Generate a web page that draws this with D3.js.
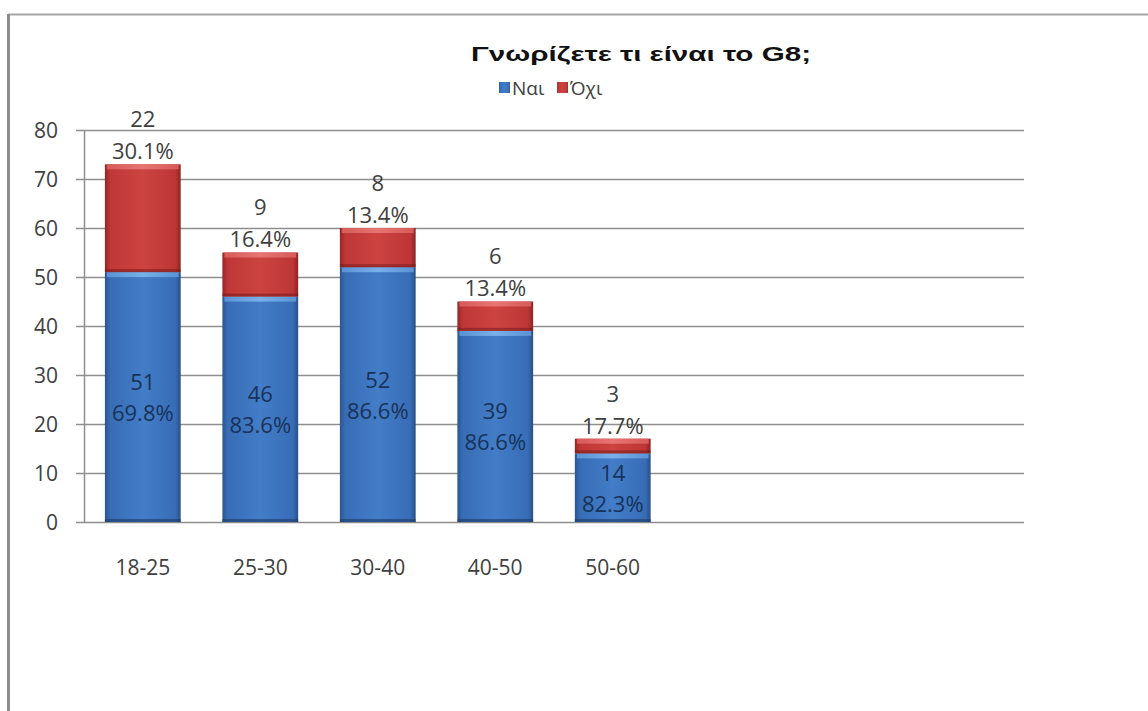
<!DOCTYPE html>
<html><head><meta charset="utf-8">
<script src="https://cdn.jsdelivr.net/npm/d3@7"></script>
<style>body{margin:0;background:#fff}svg{display:block}</style>
</head><body>
<script>
const categories = ["18-25","25-30","30-40","40-50","50-60","","",""];
const seriesNames = ["Ναι","Όχι"];
const naiValues = [51,46,52,39,14];
const oxiValues = [22,9,8,6,3];
const naiPct = ["69.8%","83.6%","86.6%","86.6%","82.3%"];
const oxiPct = ["30.1%","16.4%","13.4%","13.4%","17.7%"];
const yTicks = [0,10,20,30,40,50,60,70,80];
const title = "Γνωρίζετε τι είναι το G8;";

const W=1148,H=711;
const svg=d3.select("body").append("svg").attr("width",W).attr("height",H);
const defs=svg.append("defs");
function grad(id,stops){const g=defs.append("linearGradient").attr("id",id).attr("x1","0").attr("x2","1").attr("y1","0").attr("y2","0");
 stops.forEach(s=>g.append("stop").attr("offset",s[0]).attr("stop-color",s[1]));}
grad("gBlue",[[0,"#2a5590"],[0.07,"#386db6"],[0.5,"#437cc7"],[0.93,"#386db6"],[1,"#284f86"]]);
grad("gRed",[[0,"#952526"],[0.07,"#bf3737"],[0.5,"#cc4341"],[0.93,"#bd3636"],[1,"#8e2324"]]);
grad("gBlueTop",[[0,"#5b92d4"],[0.5,"#79b0ea"],[1,"#5b92d4"]]);
grad("gRedTop",[[0,"#d65a58"],[0.5,"#e87573"],[1,"#d65a58"]]);

// frame
svg.append("line").attr("x1",8).attr("x2",W).attr("y1",14.5).attr("y2",14.5).attr("stroke","#a6a6a6").attr("stroke-width",2);
svg.append("line").attr("x1",8.5).attr("x2",8.5).attr("y1",14).attr("y2",H).attr("stroke","#8c8c8c").attr("stroke-width",3);

const x=d3.scaleBand().domain(d3.range(categories.length)).range([84,1024]).paddingInner(0.355).paddingOuter(0.178);
const y=d3.scaleLinear().domain([0,80]).range([522,130]);

const g=svg.append("g");
g.selectAll("line.grid").data(yTicks).join("line").attr("x1",76).attr("x2",1024)
 .attr("y1",d=>Math.round(y(d))+0.5).attr("y2",d=>Math.round(y(d))+0.5).attr("stroke","#8e8e8e").attr("stroke-width",1.5);
g.append("line").attr("x1",84.5).attr("x2",84.5).attr("y1",y(80)).attr("y2",y(0)).attr("stroke","#8e8e8e").attr("stroke-width",1.5);

const font="'Open Sans', 'DejaVu Sans', sans-serif";
const fs=21;
g.selectAll("text.yt").data(yTicks).join("text").attr("x",58).attr("y",d=>y(d)).attr("dy","0.36em")
 .attr("text-anchor","end").attr("font-family",font).attr("font-size",fs).attr("fill","#404040").text(d=>d);
g.selectAll("text.xt").data(categories).join("text").attr("x",(d,i)=>x(i)+x.bandwidth()/2).attr("y",567).attr("dy","0.36em")
 .attr("text-anchor","middle").attr("font-family",font).attr("font-size",fs).attr("fill","#404040").text(d=>d);

const stack=naiValues.map((v,i)=>({i,nai:v,oxi:oxiValues[i]}));
const bars=g.selectAll("g.bar").data(stack).join("g");
bars.append("rect").attr("x",d=>x(d.i)).attr("width",x.bandwidth()).attr("y",d=>y(d.nai)).attr("height",d=>y(0)-y(d.nai)).attr("fill","url(#gBlue)");
bars.append("rect").attr("x",d=>x(d.i)+2).attr("width",x.bandwidth()-4).attr("y",d=>y(d.nai)).attr("height",5).attr("fill","url(#gBlueTop)");
bars.append("rect").attr("x",d=>x(d.i)).attr("width",x.bandwidth()).attr("y",d=>y(0)-3).attr("height",3).attr("fill","#1d3c68").attr("opacity",0.6);
bars.append("rect").attr("x",d=>x(d.i)).attr("width",x.bandwidth()).attr("y",d=>y(d.nai+d.oxi)).attr("height",d=>y(d.nai)-y(d.nai+d.oxi)).attr("fill","url(#gRed)");
bars.append("rect").attr("x",d=>x(d.i)+2).attr("width",x.bandwidth()-4).attr("y",d=>y(d.nai+d.oxi)).attr("height",5).attr("fill","url(#gRedTop)");
bars.append("rect").attr("x",d=>x(d.i)).attr("width",x.bandwidth()).attr("y",d=>y(d.nai)-3).attr("height",3).attr("fill","#6e1818").attr("opacity",0.5);

const lf=22;
bars.append("text").attr("x",d=>x(d.i)+x.bandwidth()/2).attr("y",d=>y(d.nai/2)-15).attr("dy","0.36em")
 .attr("text-anchor","middle").attr("font-family",font).attr("font-size",lf).attr("fill","#17335a").text(d=>d.nai);
bars.append("text").attr("x",d=>x(d.i)+x.bandwidth()/2).attr("y",d=>y(d.nai/2)+16).attr("dy","0.36em")
 .attr("text-anchor","middle").attr("font-family",font).attr("font-size",lf).attr("fill","#17335a").text(d=>naiPct[d.i]);
bars.append("text").attr("x",d=>x(d.i)+x.bandwidth()/2).attr("y",d=>y(d.nai+d.oxi)-45).attr("dy","0.36em")
 .attr("text-anchor","middle").attr("font-family",font).attr("font-size",lf).attr("fill","#404040").text(d=>d.oxi);
bars.append("text").attr("x",d=>x(d.i)+x.bandwidth()/2).attr("y",d=>y(d.nai+d.oxi)-13).attr("dy","0.36em")
 .attr("text-anchor","middle").attr("font-family",font).attr("font-size",lf).attr("fill","#404040").text(d=>oxiPct[d.i]);

svg.append("text").attr("x",471).attr("y",53).attr("dy","0.36em")
 .attr("font-family","'Liberation Sans','DejaVu Sans',sans-serif").attr("font-weight","bold")
 .attr("font-size",21).attr("fill","#111").attr("textLength",340).attr("lengthAdjust","spacingAndGlyphs").text(title);
const legColors=["url(#gBlue)","url(#gRed)"];
const legX=[499,557];
seriesNames.forEach((n,i)=>{
 svg.append("rect").attr("x",legX[i]).attr("y",82).attr("width",11).attr("height",11).attr("fill",legColors[i]);
 svg.append("text").attr("x",legX[i]+13).attr("y",88).attr("dy","0.36em").attr("font-family",font).attr("font-size",19).attr("fill","#404040").text(n);
});
</script>
</body></html>
